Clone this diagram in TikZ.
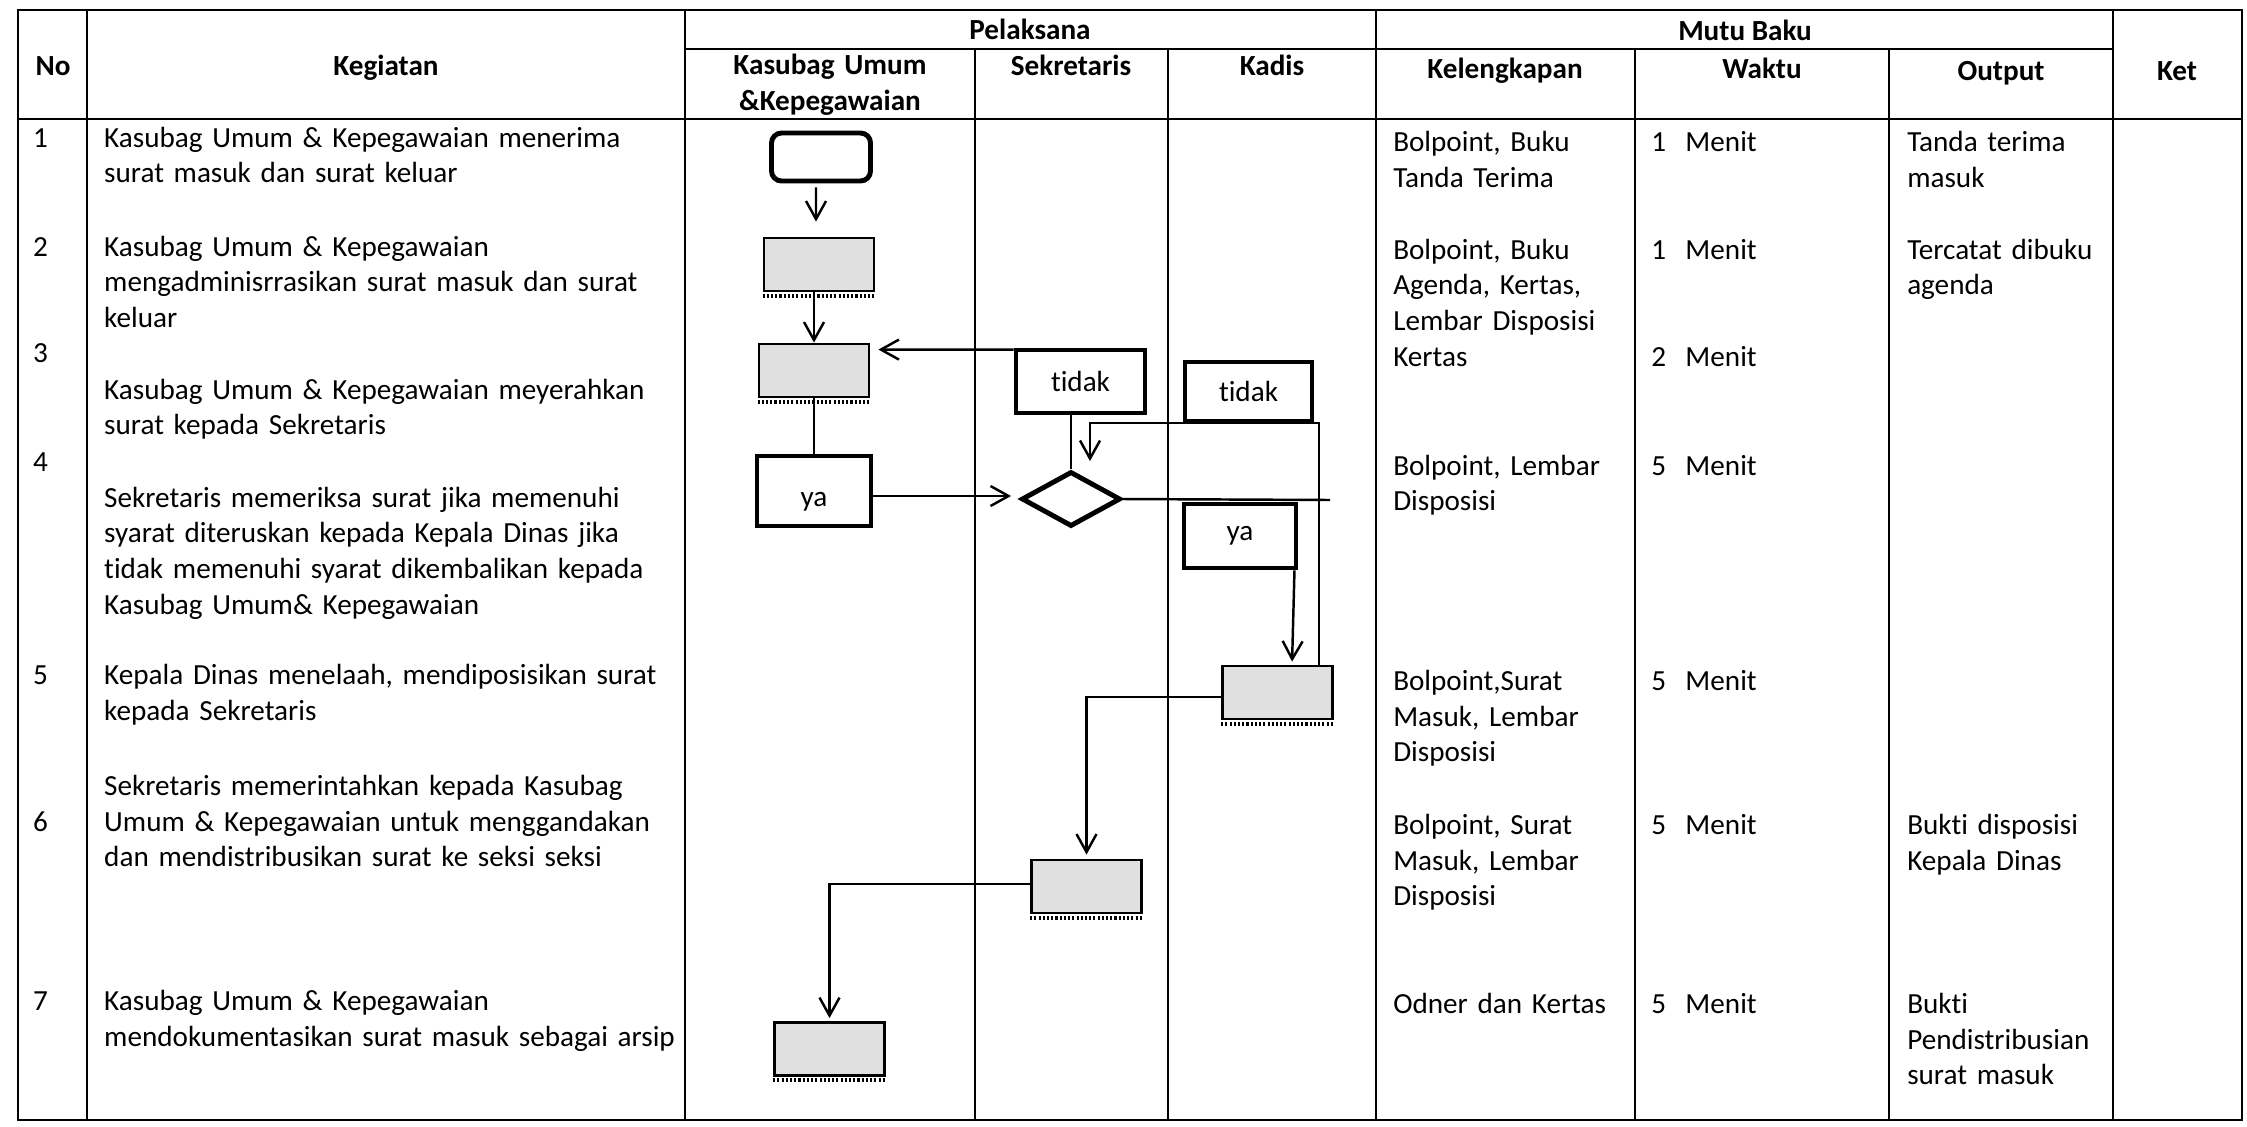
\documentclass[tikz,border=0pt]{standalone}
\usepackage{fontspec}
\setmainfont{Carlito}[Ligatures=NoCommon]
\usetikzlibrary{arrows.meta,shapes.geometric,calc,positioning}
\newcommand{\tabfont}{\fontsize{8.3}{10.24}\selectfont}

\begin{document}
\begin{tikzpicture}[>={Straight Barb[length=1.8mm,width=2mm]},
                    line width=0.7pt,
                    every node/.style={font=\tabfont},
                    tbl/.style={line width=0.45pt},
                    head node/.style={anchor=base,inner sep=0pt,font=\tabfont\bfseries},
                    txt node/.style={anchor=base west,align=left,inner sep=0pt,text width=#1},
                    txt node/.default=2.4cm,
                    term node/.style={draw,line width=1.4pt,rounded corners=0.1cm,
                                      minimum width=0.99cm,minimum height=0.48cm},
                    proc node/.style={draw,line width=0.8pt,fill=black!12,
                                      minimum width=1.1cm,minimum height=0.53cm},
                    dec node/.style={draw,line width=1.4pt,minimum width=1.2cm,
                                     minimum height=0.6cm,inner sep=0pt},
                    cond node/.style={diamond,draw,line width=1.4pt,aspect=1.8,inner sep=0pt,
                                      minimum width=0.99cm,minimum height=0.55cm},
                    fringe/.style={line width=1.1pt,dash pattern=on 0.6pt off 0.6pt}]
  \useasboundingbox (0,0) rectangle (22.47,-11.26);

  % table
  \draw[tbl] (0.18,-0.10) rectangle (22.42,-11.20);
  \draw[tbl] (0.18,-1.19) -- (22.42,-1.19);
  \draw[tbl] (6.85,-0.49) -- (21.13,-0.49);
  \foreach \x in {0.87,6.85,13.76,21.13}
    \draw[tbl] (\x,-0.10) -- (\x,-11.20);
  \foreach \x in {9.75,11.68,16.35,18.89}
    \draw[tbl] (\x,-0.49) -- (\x,-11.20);

  % header
  \node[head node] (hno) at (0.53,-0.76) {No};
  \node[head node] (hkeg) at (3.86,-0.76) {Kegiatan};
  \node[head node] (hpel) at (10.30,-0.40) {Pelaksana};
  \node[head node,align=center,text width=2.8cm] (hkas) at (8.30,-0.75) {Kasubag Umum\\\&Kepegawaian};
  \node[head node] (hsek) at (10.71,-0.76) {Sekretaris};
  \node[head node] (hkad) at (12.72,-0.76) {Kadis};
  \node[head node] (hmutu) at (17.45,-0.41) {Mutu Baku};
  \node[head node] (hkel) at (15.05,-0.79) {Kelengkapan};
  \node[head node] (hwak) at (17.62,-0.79) {Waktu};
  \node[head node] (hout) at (20.01,-0.81) {Output};
  \node[head node] (hket) at (21.77,-0.81) {Ket};

  % nomor
  \node[txt node=0.4cm] (no1) at (0.32,-1.47) {1};
  \node[txt node=0.4cm] (no2) at (0.32,-2.56) {2};
  \node[txt node=0.4cm] (no3) at (0.32,-3.62) {3};
  \node[txt node=0.4cm] (no4) at (0.32,-4.71) {4};
  \node[txt node=0.4cm] (no5) at (0.32,-6.84) {5};
  \node[txt node=0.4cm] (no6) at (0.32,-8.31) {6};
  \node[txt node=0.4cm] (no7) at (0.32,-10.10) {7};

  % kegiatan
  \node[txt node=6cm] (keg1) at (1.03,-1.47) {Kasubag Umum \& Kepegawaian menerima\\surat masuk dan surat keluar};
  \node[txt node=6cm] (keg2) at (1.03,-2.56) {Kasubag Umum \& Kepegawaian\\mengadminisrrasikan surat masuk dan surat\\keluar};
  \node[txt node=6cm] (keg3) at (1.03,-3.99) {Kasubag Umum \& Kepegawaian meyerahkan\\surat kepada Sekretaris};
  \node[txt node=6cm] (keg4) at (1.03,-5.07) {Sekretaris memeriksa surat jika memenuhi\\syarat diteruskan kepada Kepala Dinas jika\\tidak memenuhi syarat dikembalikan kepada\\Kasubag Umum\& Kepegawaian};
  \node[txt node=6cm] (keg5) at (1.03,-6.84) {Kepala Dinas menelaah, mendiposisikan surat\\kepada Sekretaris};
  \node[txt node=6cm] (keg6) at (1.03,-7.95) {Sekretaris memerintahkan kepada Kasubag\\Umum \& Kepegawaian untuk menggandakan\\dan mendistribusikan surat ke seksi seksi};
  \node[txt node=6cm] (keg7) at (1.03,-10.10) {Kasubag Umum \& Kepegawaian\\mendokumentasikan surat masuk sebagai arsip};

  % kelengkapan
  \node[txt node] (kel1) at (13.92,-1.52) {Bolpoint, Buku\\Tanda Terima};
  \node[txt node] (kel2) at (13.92,-2.59) {Bolpoint, Buku\\Agenda, Kertas,\\Lembar Disposisi\\Kertas};
  \node[txt node] (kel4) at (13.92,-4.75) {Bolpoint, Lembar\\Disposisi};
  \node[txt node] (kel5) at (13.92,-6.90) {Bolpoint,Surat\\Masuk, Lembar\\Disposisi};
  \node[txt node] (kel6) at (13.92,-8.34) {Bolpoint, Surat\\Masuk, Lembar\\Disposisi};
  \node[txt node] (kel7) at (13.92,-10.13) {Odner dan Kertas};

  % waktu
  \node[txt node] (wak1) at (16.50,-1.52) {1~~Menit};
  \node[txt node] (wak2) at (16.50,-2.59) {1~~Menit};
  \node[txt node] (wak3) at (16.50,-3.66) {2~~Menit};
  \node[txt node] (wak4) at (16.50,-4.75) {5~~Menit};
  \node[txt node] (wak5) at (16.50,-6.90) {5~~Menit};
  \node[txt node] (wak6) at (16.50,-8.34) {5~~Menit};
  \node[txt node] (wak7) at (16.50,-10.13) {5~~Menit};

  % output
  \node[txt node] (out1) at (19.06,-1.52) {Tanda terima\\masuk};
  \node[txt node] (out2) at (19.06,-2.59) {Tercatat dibuku\\agenda};
  \node[txt node] (out6) at (19.06,-8.34) {Bukti disposisi\\Kepala Dinas};
  \node[txt node] (out7) at (19.06,-10.13) {Bukti\\Pendistribusian\\surat masuk};

  % flow
  \node[term node] (1) at (8.21,-1.57) {};
  \node[proc node] (2) at (8.19,-2.645) {};
  \node[proc node] (3) at (8.14,-3.705) {};
  \node[dec node,minimum width=1.14cm,minimum height=0.70cm,text height=1.2ex,text depth=0.4ex] (ya1) at (8.14,-4.91) {\raisebox{-0.3em}{ya}};
  \node[cond node] (4) at (10.71,-4.99) {};
  \node[dec node,minimum width=1.29cm,minimum height=0.63cm] (tidak1) at (10.805,-3.815) {tidak};
  \node[dec node,minimum width=1.27cm,minimum height=0.59cm] (tidak2) at (12.485,-3.915) {tidak};
  \node[dec node,minimum width=1.12cm,minimum height=0.64cm] (ya2) at (12.40,-5.36) {ya};
  \node[proc node] (5) at (12.775,-6.925) {};
  \node[proc node] (6) at (10.865,-8.865) {};
  \node[proc node] (7) at (8.295,-10.49) {};
  \foreach \n in {2,3,5,6,7}
    \draw[fringe] ([yshift=-0.035cm]\n.south west) -- ([yshift=-0.035cm]\n.south east);

  \coordinate (4e) at (13.30,-5.00);
  \coordinate (back) at (10.90,-4.23);

  \draw[->,shorten <=0.04cm,shorten >=0.15cm] ($(1.south)+(-0.05,0)$) -- ($(2.north)+(-0.03,0)$);
  \draw[->] (2.south -| 3.north) -- (3.north);
  \draw (3.south) -- (3.south |- ya1.north);
  \draw[->,shorten >=0.08cm] (ya1.east |- 0,-4.96) -- (4.west |- 0,-4.96);
  \draw (4.north) -- (4.north |- tidak1.south);
  \draw[->,shorten >=0.08cm] ($(tidak1.north west)+(0,-0.02)$) -- ($(3.north east)+(0,-0.07)$);
  \draw (4.east) -- (4e);
  \draw[->,shorten >=0.03cm] ($(ya2.south east)+(-0.04,0)$) -- ($(5.north)+(0.145,0)$);
  \draw[->,shorten >=0.08cm] ($(5.north)+(0.415,0)$) |- (back) -- (back |- 4.north);
  \draw[->,shorten >=0.04cm] ($(5.west)+(0,-0.045)$) -| (6.north);
  \draw[->,shorten >=0.03cm] ($(6.west)+(0,0.025)$) -| (7.north);
\end{tikzpicture}
\end{document}
